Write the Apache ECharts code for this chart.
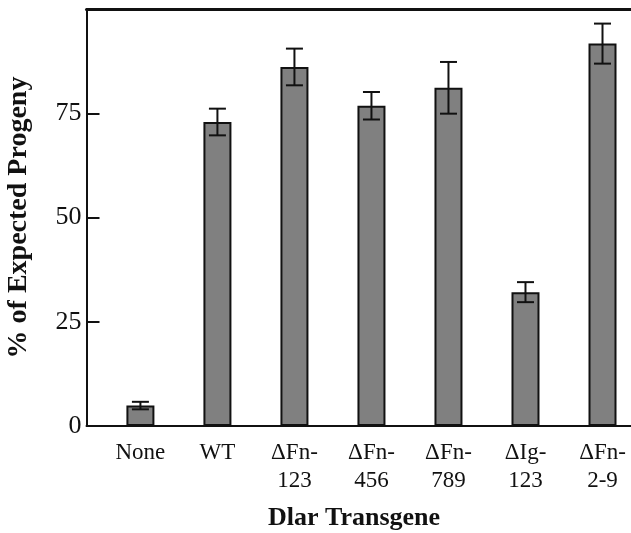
<!DOCTYPE html>
<html>
<head>
<meta charset="utf-8">
<script src="https://cdn.jsdelivr.net/npm/echarts@6/dist/echarts.min.js"></script>
<style>html,body{margin:0;padding:0;background:#fff}#c{width:631px;height:533px}</style>
</head>
<body>
<div id="c"></div>
<script>
const categories = ['None', 'WT', '\u0394Fn-\n123', '\u0394Fn-\n456', '\u0394Fn-\n789', '\u0394Ig-\n123', '\u0394Fn-\n2-9'];
const values = [4.9, 72.9, 86.1, 76.8, 81.1, 32.1, 91.7];
const errors = [0.9, 3.2, 4.4, 3.3, 6.2, 2.4, 4.8];
const yTicks = [0, 25, 50, 75];

const serif = '"Liberation Serif", "DejaVu Serif", serif';
const chart = echarts.init(document.getElementById('c'), null, {renderer: 'canvas'});
const idx = categories.map((_, i) => i);

chart.setOption({
  animation: false,
  backgroundColor: '#fff',
  grid: {left: 86.5, right: 0, top: 9, bottom: 107, outerBoundsMode: 'none', containLabel: false},
  title: {
    text: 'Dlar Transgene', left: 349, top: 500, textAlign: 'center',
    textStyle: {fontFamily: serif, fontWeight: 'bold', fontSize: 26, color: '#111'}
  },
  xAxis: [{
    type: 'value', min: -0.7, max: 6.37,
    splitLine: {show: false},
    axisLine: {show: true, onZero: false, lineStyle: {color: '#111', width: 2}},
    axisTick: {show: false},
    axisLabel: {
      show: true, customValues: idx, margin: 13,
      formatter: v => categories[Math.round(v)] || '',
      fontFamily: serif, fontSize: 23, color: '#111', lineHeight: 28, align: 'center'
    }
  }, {
    type: 'value', position: 'top', min: -0.7, max: 6.37,
    splitLine: {show: false},
    axisLine: {show: true, onZero: false, lineStyle: {color: '#111', width: 3}},
    axisTick: {show: false}, axisLabel: {show: false}
  }],
  yAxis: {
    type: 'value', min: 0, max: 100,
    name: '% of Expected Progeny', nameLocation: 'middle', nameGap: 54,
    nameTextStyle: {fontFamily: serif, fontWeight: 'bold', fontSize: 28, color: '#111'},
    splitLine: {show: false},
    axisLine: {show: true, onZero: false, lineStyle: {color: '#111', width: 2}},
    axisTick: {show: true, inside: true, length: 13, customValues: yTicks, lineStyle: {color: '#111', width: 2}},
    axisLabel: {customValues: yTicks, margin: 5, fontFamily: serif, fontSize: 26, color: '#111'}
  },
  series: [{
    type: 'bar',
    data: values.map((v, i) => [i, v]),
    barWidth: 28,
    itemStyle: {color: '#808080', borderColor: '#111', borderWidth: 2},
    z: 2
  }, {
    type: 'custom',
    data: values.map((v, i) => [i, v - errors[i], v + errors[i]]),
    renderItem: function (params, api) {
      const x = api.value(0);
      const lo = api.coord([x, api.value(1)]);
      const hi = api.coord([x, api.value(2)]);
      const hw = 8.5;
      const style = {stroke: '#111', lineWidth: 2};
      return {
        type: 'group',
        children: [
          {type: 'line', shape: {x1: lo[0], y1: lo[1], x2: hi[0], y2: hi[1]}, style},
          {type: 'line', shape: {x1: lo[0] - hw, y1: lo[1], x2: lo[0] + hw, y2: lo[1]}, style},
          {type: 'line', shape: {x1: hi[0] - hw, y1: hi[1], x2: hi[0] + hw, y2: hi[1]}, style}
        ]
      };
    },
    z: 3
  }]
});
</script>
</body>
</html>
